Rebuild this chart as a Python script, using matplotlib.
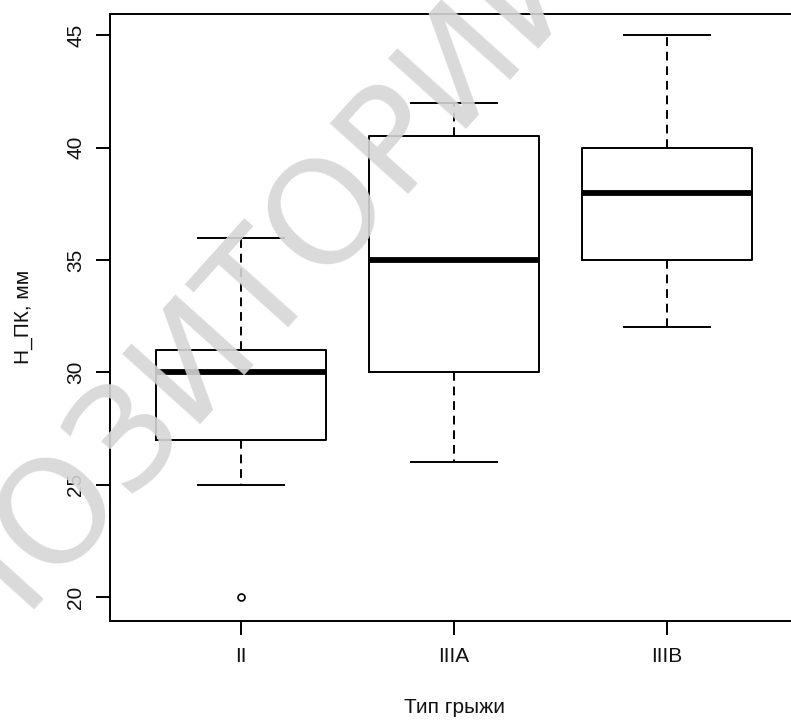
import matplotlib
matplotlib.use("Agg")
import matplotlib.pyplot as plt

# ---- data ----
categories = ["II", "IIIA", "IIIB"]
whisker_low = [25, 26, 32]
q1 = [27, 30, 35]
median = [30, 35, 38]
q3 = [31, 40.5, 40]
whisker_high = [36, 42, 45]
outliers = [[20], [], []]
y_ticks = [20, 25, 30, 35, 40, 45]
x_label = "Тип грыжи"
y_label = "Н_ПК, мм"
watermark = "РЕПОЗИТОРИЙ"

plt.rcParams["font.family"] = ["Liberation Sans", "DejaVu Sans"]

W, H = 791, 720
fig = plt.figure(figsize=(W / 100, H / 100), dpi=100)
fig.patch.set_facecolor("white")

left_px, right_px, top_px, bottom_px = 110, 798, 14, 620.7
ax = fig.add_axes([left_px / W, 1 - bottom_px / H,
                   (right_px - left_px) / W, (bottom_px - top_px) / H])

stats = []
for i, c in enumerate(categories):
    stats.append(dict(label=c, whislo=whisker_low[i], q1=q1[i], med=median[i],
                      q3=q3[i], whishi=whisker_high[i], fliers=outliers[i]))

lw = 1.4
ax.bxp(stats, positions=[1, 2, 3], widths=0.8, capwidths=0.4,
       boxprops=dict(color="black", linewidth=lw),
       medianprops=dict(color="black", linewidth=4.2, solid_capstyle="butt"),
       whiskerprops=dict(color="black", linewidth=lw, linestyle=(0, (4.5, 3))),
       capprops=dict(color="black", linewidth=lw),
       flierprops=dict(marker="o", markersize=5, markerfacecolor="none",
                       markeredgecolor="black", markeredgewidth=1.2),
       showfliers=True)

ax.set_xlim(0.385, 3.615)
ax.set_ylim(18.96, 45.94)
ax.set_yticks(y_ticks)
ax.set_yticklabels([str(v) for v in y_ticks], rotation=90, va="center")
ax.set_xticks([1, 2, 3])
ax.set_xticklabels(categories)

for s in ax.spines.values():
    s.set_linewidth(lw)
    s.set_color("black")
ax.tick_params(axis="both", length=10, width=lw, color="black",
               labelsize=15, labelcolor="#111111")
ax.tick_params(axis="y", pad=8)
ax.tick_params(axis="x", pad=9)

ax.set_xlabel(x_label, fontsize=15, labelpad=23, color="#111111")
ax.set_ylabel(y_label, fontsize=15, labelpad=24, color="#111111")

# faint diagonal watermark
fig.text(198 / W, 1 - 352 / H, watermark, rotation=48, rotation_mode="anchor",
         ha="center", va="center", fontsize=104, color="#d6d6d6", alpha=0.9,
         family="DejaVu Sans", zorder=10)

fig.savefig("out.png", dpi=100)
